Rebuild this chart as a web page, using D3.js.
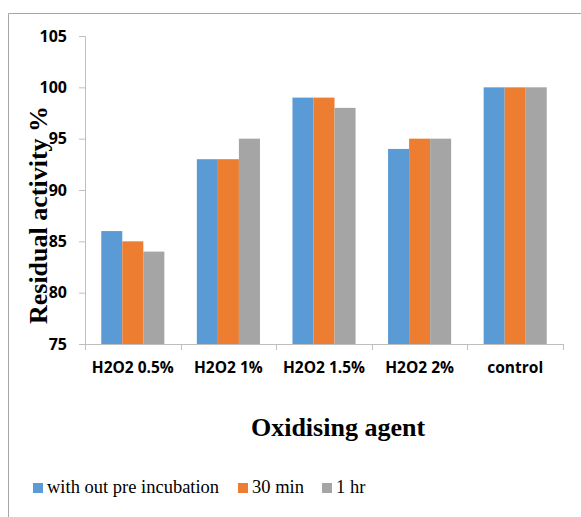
<!DOCTYPE html>
<html>
<head>
<meta charset="utf-8">
<script src="https://cdn.jsdelivr.net/npm/d3@7/dist/d3.min.js"></script>
<style>
  html, body { margin: 0; padding: 0; background: #fff; }
  svg { display: block; }
</style>
</head>
<body>
<svg id="chart" width="581" height="517"></svg>
<script>
// Residual activity (%) after exposure to the oxidising agent
const categories = ["H2O2 0.5%", "H2O2 1%", "H2O2 1.5%", "H2O2 2%", "control"];
const seriesNames = ["with out pre incubation", "30 min", "1 hr"];
const withoutPreIncubation = [86, 93, 99, 94, 100];
const min30 = [85, 93, 99, 95, 100];
const hr1 = [84, 95, 98, 95, 100];
const yTicks = [75, 80, 85, 90, 95, 100, 105];
const colors = ["#5B9BD5", "#ED7D31", "#A5A5A5"];

const series = [withoutPreIncubation, min30, hr1];

const svg = d3.select("#chart");
const margin = { left: 85, right: 18, top: 36, bottom: 173 };
const W = 581, H = 517;
const plotW = W - margin.left - margin.right;
const plotH = H - margin.top - margin.bottom;

// outer frame of the chart area
svg.append("path")
  .attr("d", `M8.5,${H + 2} V13.5 H${W + 2}`)
  .attr("fill", "none")
  .attr("stroke", "#A6A6A6")
  .attr("stroke-width", 1);

const g = svg.append("g").attr("transform", `translate(${margin.left},${margin.top})`);

const x0 = d3.scaleBand().domain(categories).range([0, plotW]).paddingInner(0.34).paddingOuter(0.17);
const x1 = d3.scaleBand().domain(d3.range(series.length)).range([0, x0.bandwidth()]);
const y = d3.scaleLinear().domain([75, 105]).range([plotH, 0]);

// bars
categories.forEach((c, ci) => {
  series.forEach((s, si) => {
    g.append("rect")
      .attr("x", x0(c) + x1(si))
      .attr("y", y(s[ci]))
      .attr("width", x1.bandwidth())
      .attr("height", y(75) - y(s[ci]))
      .attr("fill", colors[si]);
  });
});

// y axis
const yAxis = g.append("g").call(d3.axisLeft(y).tickValues(yTicks).tickSize(6).tickPadding(12));
yAxis.select(".domain").attr("stroke", "#BFBFBF");
yAxis.selectAll(".tick line").attr("stroke", "#BFBFBF");
yAxis.selectAll("text")
  .attr("font-family", "'Open Sans', sans-serif")
  .attr("font-weight", "bold")
  .attr("font-size", "16px")
  .attr("fill", "#000");

// x axis with boundary ticks between categories
const xAxisG = g.append("g").attr("transform", `translate(0,${plotH})`);
xAxisG.append("line")
  .attr("x1", 0).attr("x2", plotW).attr("y1", 0.5).attr("y2", 0.5)
  .attr("stroke", "#BFBFBF");
const step = plotW / categories.length;
d3.range(categories.length + 1).forEach(i => {
  xAxisG.append("line")
    .attr("x1", Math.round(i * step) + 0.5).attr("x2", Math.round(i * step) + 0.5)
    .attr("y1", 0).attr("y2", 6)
    .attr("stroke", "#BFBFBF");
});
categories.forEach(c => {
  xAxisG.append("text")
    .attr("x", x0(c) + x0.bandwidth() / 2)
    .attr("y", 29)
    .attr("text-anchor", "middle")
    .attr("font-family", "'Open Sans', sans-serif")
    .attr("font-weight", "bold")
    .attr("font-size", "15.5px")
    .attr("fill", "#000")
    .text(c);
});

// axis titles
svg.append("text")
  .attr("transform", "translate(47,215) rotate(-90)")
  .attr("text-anchor", "middle")
  .attr("font-family", "'Liberation Serif', 'Times New Roman', serif")
  .attr("font-weight", "bold")
  .attr("font-size", "26px")
  .attr("fill", "#000")
  .text("Residual activity %");

svg.append("text")
  .attr("x", 338)
  .attr("y", 436)
  .attr("text-anchor", "middle")
  .attr("font-family", "'Liberation Serif', 'Times New Roman', serif")
  .attr("font-weight", "bold")
  .attr("font-size", "26px")
  .attr("fill", "#000")
  .text("Oxidising agent");

// legend
const legendX = [33, 238, 322];
seriesNames.forEach((name, i) => {
  svg.append("rect")
    .attr("x", legendX[i]).attr("y", 483)
    .attr("width", 10).attr("height", 10)
    .attr("fill", colors[i]);
  svg.append("text")
    .attr("x", legendX[i] + 14)
    .attr("y", 493)
    .attr("font-family", "'Liberation Serif', 'Times New Roman', serif")
    .attr("font-size", "18.5px")
    .attr("fill", "#000")
    .text(name);
});
</script>
</body>
</html>
